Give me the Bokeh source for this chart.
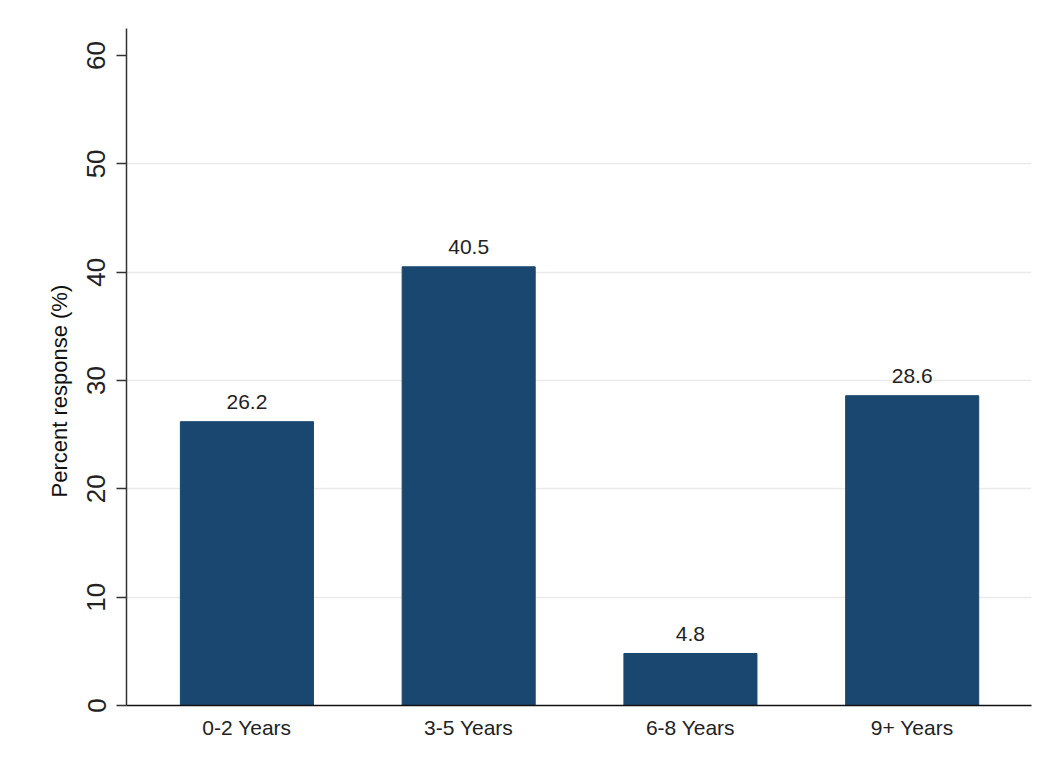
from bokeh.plotting import figure
from bokeh.models import ColumnDataSource, Range1d, FixedTicker, LabelSet, Title
from bokeh.core.properties import value
from bokeh.embed import file_html
from bokeh.resources import INLINE

categories = ["0-2 Years", "3-5 Years", "6-8 Years", "9+ Years"]
values = [26.2, 40.5, 4.8, 28.6]
labels = ["26.2", "40.5", "4.8", "28.6"]
y_ticks = [0, 10, 20, 30, 40, 50, 60]
grid_ticks = [10, 20, 30, 40, 50]
y_title = "Percent response (%)"

xs = list(range(len(categories)))
src = ColumnDataSource(dict(x=xs, top=values, label=labels))

FONT = "Liberation Sans"
BAR = "#1a476f"

p = figure(width=1038, height=758, output_backend="svg", toolbar_location=None,
           x_range=Range1d(-0.543, 3.538), y_range=Range1d(0, 62.5),
           min_border_left=126, min_border_right=7, min_border_top=28, min_border_bottom=53)
p.outline_line_color = None
p.background_fill_color = "white"
p.border_fill_color = "white"

p.vbar(x="x", top="top", width=0.6, bottom=0, source=src, fill_color=BAR, line_color=BAR)

lbl = LabelSet(x="x", y="top", text="label", source=src, text_align="center",
               text_baseline="alphabetic", y_offset=13, text_font=value(FONT),
               text_font_size=value("21px"), text_color="#222222")
p.add_layout(lbl)

# y axis
p.yaxis.ticker = FixedTicker(ticks=y_ticks)
p.yaxis.major_label_orientation = "parallel"
p.yaxis.major_label_text_font = FONT
p.yaxis.major_label_text_font_size = "26px"
p.yaxis.major_label_text_color = "#222222"
p.yaxis.major_tick_out = 10
p.yaxis.major_tick_in = 0
p.yaxis.minor_tick_line_color = None
p.yaxis.axis_line_color = "#333333"
p.yaxis.axis_line_width = 1.5
p.yaxis.major_tick_line_color = "#333333"
p.yaxis.major_tick_line_width = 1.5
p.yaxis.major_label_standoff = 11

ytitle = Title(text=y_title, align="left", offset=208, text_font=FONT,
               text_font_size="22px", text_font_style="normal", text_color="#111111",
               standoff=26)
p.add_layout(ytitle, "left")

# x axis
p.xaxis.ticker = FixedTicker(ticks=xs)
p.xaxis.major_label_overrides = {i: c for i, c in enumerate(categories)}
p.xaxis.major_label_text_font = FONT
p.xaxis.major_label_text_font_size = "21px"
p.xaxis.major_label_text_color = "#222222"
p.xaxis.major_tick_out = 0
p.xaxis.major_tick_in = 0
p.xaxis.minor_tick_line_color = None
p.xaxis.axis_line_color = "#111111"
p.xaxis.axis_line_width = 1.5
p.xaxis.major_label_standoff = 10

# grids
p.xgrid.grid_line_color = None
p.ygrid.ticker = FixedTicker(ticks=grid_ticks)
p.ygrid.grid_line_color = "#eaeaea"
p.ygrid.grid_line_width = 1.5

open("out.html", "w").write(file_html(p, INLINE))
